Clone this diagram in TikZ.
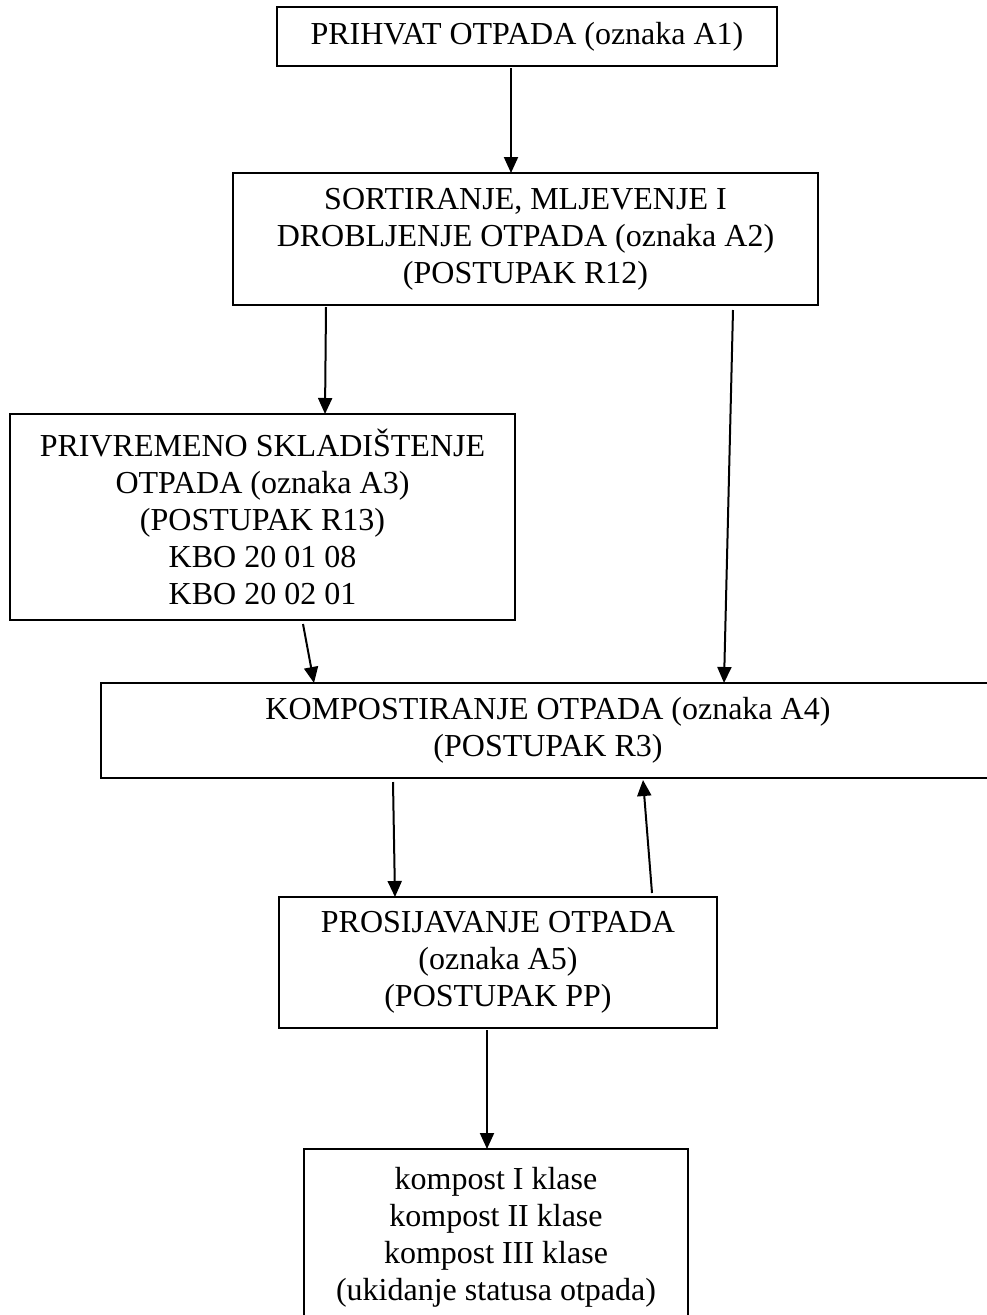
\documentclass[tikz,border=0pt]{standalone}
\usepackage{fontspec}
\setmainfont{Liberation Serif}
\usetikzlibrary{arrows.meta}
\begin{document}
\begin{tikzpicture}[x=1pt,y=-1pt,
  box/.style={draw,line width=2pt,rectangle,inner sep=0pt,outer sep=0pt,align=center,font=\fontsize{32}{37}\selectfont},
  conn/.style={line width=2pt,-{Triangle[length=16pt,width=14pt]}}]
\useasboundingbox (0,0) rectangle (987,1315);
\node[box,minimum width=500pt,minimum height=59pt] (n1) at (527,36.5) {PRIHVAT OTPADA (oznaka A1)};
\node[box,minimum width=585pt,minimum height=132pt] (n2) at (525.5,239) {SORTIRANJE, MLJEVENJE I\\DROBLJENJE OTPADA (oznaka A2)\\(POSTUPAK R12)};
\node[box,minimum width=505pt,minimum height=206pt] (n3) at (262.5,517) {PRIVREMENO SKLADIŠTENJE\\OTPADA (oznaka A3)\\(POSTUPAK R13)\\KBO 20 01 08\\KBO 20 02 01};
\node[box,minimum width=894pt,minimum height=95pt] (n4) at (548,730.5) {KOMPOSTIRANJE OTPADA (oznaka A4)\\(POSTUPAK R3)};
\node[box,minimum width=438pt,minimum height=131pt] (n5) at (498,962.5) {PROSIJAVANJE OTPADA\\(oznaka A5)\\(POSTUPAK PP)};
\node[box,minimum width=384pt,minimum height=176pt] (n6) at (496,1237) {kompost I klase\\kompost II klase\\kompost III klase\\(ukidanje statusa otpada)};
\draw[conn] ([shift={(-16,2)}]n1.south) -- ([shift={(-14.5,0)}]n2.north);
\draw[conn] ([shift={(-199.5,2)}]n2.south) -- ([shift={(62.5,0)}]n3.north);
\draw[conn] ([shift={(207.5,5)}]n2.south) -- ([shift={(176,0)}]n4.north);
\draw[conn] ([shift={(40.5,4)}]n3.south) -- ([shift={(-234,0)}]n4.north);
\draw[conn] ([shift={(-155,4)}]n4.south) -- ([shift={(-103,0)}]n5.north);
\draw[conn] ([shift={(154,-4)}]n5.north) -- ([shift={(95,2)}]n4.south);
\draw[conn] ([shift={(-11,2)}]n5.south) -- ([shift={(-9,0)}]n6.north);
\end{tikzpicture}
\end{document}
